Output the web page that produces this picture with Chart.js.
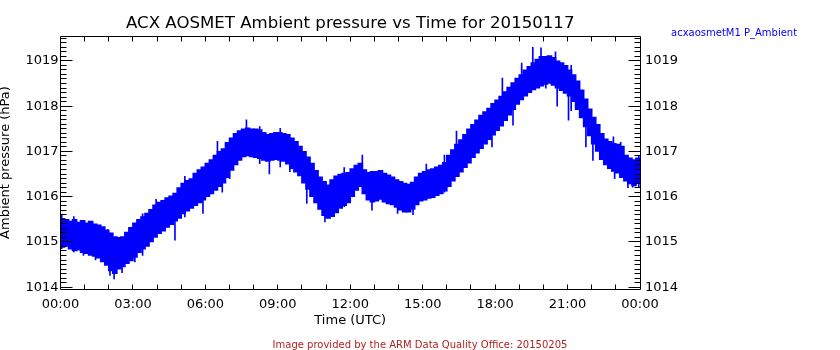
<!DOCTYPE html>
<html>
<head>
<meta charset="utf-8">
<script src="https://cdn.jsdelivr.net/npm/chart.js@4"></script>
<style>
  body { margin: 0; background: #fff; }
</style>
</head>
<body>
<canvas id="graficaPresion" width="840" height="350"></canvas>
<script>
// 10-minute bins over the day, hours since 00:00 UTC
const pressureHigh = [
    1015.52, 1015.50, 1015.46, 1015.50, 1015.44, 1015.48,
    1015.42, 1015.46, 1015.40, 1015.38, 1015.34, 1015.26,
    1015.20, 1015.12, 1015.10, 1015.12, 1015.22, 1015.32,
    1015.42, 1015.50, 1015.56, 1015.64, 1015.72, 1015.82,
    1015.88, 1015.92, 1015.98, 1016.02, 1016.08, 1016.20,
    1016.30, 1016.36, 1016.40, 1016.52, 1016.60, 1016.66,
    1016.74, 1016.82, 1016.92, 1017.00, 1017.06, 1017.20,
    1017.30, 1017.40, 1017.46, 1017.50, 1017.52, 1017.50,
    1017.50, 1017.48, 1017.42, 1017.38, 1017.40, 1017.42,
    1017.42, 1017.40, 1017.38, 1017.30, 1017.22, 1017.12,
    1017.00, 1016.88, 1016.74, 1016.58, 1016.44, 1016.34,
    1016.26, 1016.38, 1016.46, 1016.50, 1016.52, 1016.54,
    1016.62, 1016.70, 1016.74, 1016.60, 1016.54, 1016.56,
    1016.56, 1016.58, 1016.52, 1016.48, 1016.44, 1016.38,
    1016.34, 1016.30, 1016.28, 1016.32, 1016.44, 1016.52,
    1016.56, 1016.60, 1016.62, 1016.66, 1016.70, 1016.76,
    1016.92, 1017.04, 1017.16, 1017.26, 1017.38, 1017.50,
    1017.60, 1017.70, 1017.80, 1017.88, 1017.96, 1018.06,
    1018.14, 1018.22, 1018.32, 1018.42, 1018.52, 1018.62,
    1018.70, 1018.80, 1018.88, 1018.96, 1019.04, 1019.10,
    1019.10, 1019.12, 1019.08, 1019.00, 1018.96, 1018.90,
    1018.80, 1018.70, 1018.56, 1018.36, 1018.16, 1017.94,
    1017.76, 1017.60, 1017.40, 1017.28, 1017.22, 1017.18,
    1017.16, 1017.12, 1016.92, 1016.86, 1016.82, 1016.86
];
const pressureLow = [
    1014.88, 1014.90, 1014.84, 1014.80, 1014.82, 1014.76,
    1014.74, 1014.70, 1014.68, 1014.64, 1014.56, 1014.48,
    1014.36, 1014.30, 1014.40, 1014.45, 1014.52, 1014.58,
    1014.66, 1014.76, 1014.84, 1014.90, 1015.00, 1015.10,
    1015.18, 1015.24, 1015.32, 1015.38, 1015.46, 1015.52,
    1015.62, 1015.68, 1015.74, 1015.80, 1015.86, 1015.92,
    1016.00, 1016.06, 1016.14, 1016.22, 1016.30, 1016.42,
    1016.58, 1016.70, 1016.80, 1016.88, 1016.90, 1016.88,
    1016.86, 1016.84, 1016.80, 1016.78, 1016.80, 1016.82,
    1016.80, 1016.78, 1016.72, 1016.62, 1016.54, 1016.46,
    1016.30, 1016.16, 1016.00, 1015.86, 1015.72, 1015.58,
    1015.52, 1015.56, 1015.64, 1015.74, 1015.80, 1015.86,
    1016.00, 1016.14, 1016.22, 1016.06, 1015.92, 1015.88,
    1015.90, 1015.94, 1015.88, 1015.84, 1015.82, 1015.76,
    1015.70, 1015.66, 1015.66, 1015.72, 1015.82, 1015.90,
    1015.92, 1015.96, 1015.98, 1016.02, 1016.06, 1016.12,
    1016.22, 1016.34, 1016.44, 1016.54, 1016.64, 1016.74,
    1016.86, 1016.96, 1017.06, 1017.16, 1017.26, 1017.36,
    1017.46, 1017.56, 1017.68, 1017.80, 1017.92, 1018.04,
    1018.14, 1018.22, 1018.30, 1018.36, 1018.40, 1018.44,
    1018.48, 1018.50, 1018.46, 1018.40, 1018.34, 1018.28,
    1018.22, 1018.10, 1017.92, 1017.74, 1017.54, 1017.34,
    1017.16, 1017.00, 1016.82, 1016.70, 1016.62, 1016.56,
    1016.52, 1016.42, 1016.34, 1016.28, 1016.24, 1016.30
];

// single samples that stick out of the band
const spikeHours = [0.05, 0.55, 0.95, 1.45, 1.95, 2.05, 2.22, 2.55, 3.08, 3.40, 3.96, 4.74,
    5.15, 5.90, 6.50, 6.70, 7.00, 7.70, 8.25, 8.65, 9.10, 9.50, 10.20, 10.95, 11.70, 11.75,
    12.50, 12.90, 13.96, 14.60, 15.15, 15.90, 16.40, 17.40, 17.87, 18.30, 18.74, 19.10,
    19.56, 19.90, 20.10, 20.50, 20.57, 21.04, 21.15, 21.76, 22.05, 22.90, 22.95, 23.20,
    23.50, 23.70, 23.95];
const spikeLow = [1014.85, 1014.78, 1014.70, 1014.60, 1014.50, 1014.26, 1014.18, 1014.32, 1014.56, 1014.70, 1015.30, 1015.04,
    1015.55, 1015.63, 1016.30, 1016.10, 1016.40, 1017.00, 1016.73, 1016.50, 1016.66, 1016.55, 1015.85, 1015.44, 1015.81, 1015.78,
    1016.20, 1015.70, 1015.63, 1015.60, 1016.20, 1016.10, 1016.90, 1017.10, 1017.10, 1018.00, 1017.58, 1018.20,
    1018.50, 1018.50, 1018.40, 1018.70, 1018.00, 1017.69, 1017.90, 1017.10, 1016.80, 1016.70, 1016.40, 1016.60,
    1016.20, 1016.21, 1016.20];
const spikeHigh = [1015.60, 1015.56, 1015.40, 1015.20, 1015.28, 1014.80, 1014.80, 1014.80, 1015.20, 1015.62, 1015.94, 1015.60,
    1016.45, 1016.20, 1017.22, 1016.60, 1016.90, 1017.70, 1017.55, 1017.00, 1017.51, 1017.00, 1016.75, 1015.80, 1016.30, 1016.64,
    1016.92, 1016.20, 1016.10, 1016.00, 1016.72, 1016.92, 1017.45, 1017.60, 1017.60, 1018.62, 1018.10, 1018.95,
    1019.30, 1019.29, 1018.90, 1019.20, 1018.50, 1018.30, 1018.90, 1017.70, 1017.30, 1017.32, 1016.80, 1017.20,
    1016.90, 1016.60, 1016.90];

const timeLabels = ["00:00", "03:00", "06:00", "09:00", "12:00", "15:00", "18:00", "21:00", "00:00"];

const binHours = pressureHigh.map((_, i) => (i + 0.5) / 6);

const fuente = "'DejaVu Sans', sans-serif";
const azul = "#0000ff";

// box, hourly ticks and 0.1 hPa ticks like the IDL plot frame
const marco = {
    id: "marco",
    afterDatasetsDraw(chart) {
        const { ctx, chartArea: a, scales: { x, y } } = chart;
        const l = Math.floor(a.left) + 0.5, r = Math.floor(a.right) + 0.5;
        const t = Math.floor(a.top) + 0.5, b = Math.floor(a.bottom) + 0.5;
        ctx.save();
        ctx.strokeStyle = "#000";
        ctx.lineWidth = 1;
        ctx.beginPath();
        ctx.rect(l, t, r - l, b - t);
        for (let h = 1; h < 24; h++) {
            const px = Math.floor(x.getPixelForValue(h)) + 0.5;
            ctx.moveTo(px, b); ctx.lineTo(px, b - 5);
            ctx.moveTo(px, t); ctx.lineTo(px, t + 5);
        }
        for (let k = Math.ceil(y.min * 10); k <= Math.floor(y.max * 10); k++) {
            const py = Math.floor(y.getPixelForValue(k / 10)) + 0.5;
            const len = k % 10 === 0 ? 12 : 6;
            ctx.moveTo(l, py); ctx.lineTo(l + len, py);
            ctx.moveTo(r, py); ctx.lineTo(r - len, py);
        }
        ctx.stroke();
        ctx.restore();
    },
    afterDraw(chart) {
        const { ctx, chartArea: a } = chart;
        ctx.save();
        ctx.textBaseline = "alphabetic";
        ctx.fillStyle = "#000";
        ctx.font = "16.6px " + fuente;
        ctx.textAlign = "center";
        ctx.fillText("ACX AOSMET Ambient pressure vs Time for 20150117", (a.left + a.right) / 2, 28);
        ctx.fillStyle = azul;
        ctx.font = "10px " + fuente;
        ctx.textAlign = "left";
        ctx.fillText("acxaosmetM1 P_Ambient", 671, 36);
        ctx.fillStyle = "#b22222";
        ctx.textAlign = "center";
        ctx.fillText("Image provided by the ARM Data Quality Office: 20150205", 420, 348);
        ctx.restore();
    }
};

const ticksComunes = { color: "#000", font: { family: fuente, size: 13 } };

new Chart(document.getElementById("graficaPresion").getContext("2d"), {
    type: "bar",
    data: {
        datasets: [{
            label: "P_Ambient",
            data: binHours.map((h, i) => ({ x: h, y: [pressureLow[i], pressureHigh[i]] })),
            backgroundColor: azul,
            borderWidth: 0,
            barThickness: 5,
            grouped: false
        }, {
            label: "picos",
            data: spikeHours.map((h, i) => ({ x: h, y: [spikeLow[i], spikeHigh[i]] })),
            backgroundColor: azul,
            borderWidth: 0,
            barThickness: 1,
            grouped: false
        }]
    },
    options: {
        responsive: false,
        animation: false,
        devicePixelRatio: 1,
        layout: { padding: { top: 36, left: 0, right: 0, bottom: 0 } },
        plugins: { legend: { display: false }, tooltip: { enabled: false } },
        scales: {
            x: {
                type: "linear",
                min: 0,
                max: 24,
                offset: false,
                afterFit: s => { s.height = 61; },
                grid: { display: false, drawTicks: false },
                border: { display: false },
                ticks: Object.assign({}, ticksComunes, {
                    stepSize: 3,
                    padding: 8,
                    maxRotation: 0,
                    autoSkip: false,
                    callback: v => timeLabels[v / 3]
                }),
                title: {
                    display: true,
                    text: "Time (UTC)",
                    color: "#000",
                    font: { family: fuente, size: 13 },
                    padding: { top: 0, bottom: 22 }
                }
            },
            y: {
                position: "left",
                min: 1013.96,
                max: 1019.55,
                afterFit: s => { s.width = 60.5; },
                grid: { display: false, drawTicks: false },
                border: { display: false },
                ticks: Object.assign({}, ticksComunes, {
                    stepSize: 1,
                    includeBounds: false,
                    padding: 2,
                    callback: v => String(v)
                }),
                title: {
                    display: true,
                    text: "Ambient pressure (hPa)",
                    color: "#000",
                    font: { family: fuente, size: 13 },
                    padding: { top: -2, bottom: 0 }
                }
            },
            y2: {
                position: "right",
                min: 1013.96,
                max: 1019.55,
                afterFit: s => { s.width = 200; },
                grid: { display: false, drawTicks: false },
                border: { display: false },
                ticks: Object.assign({}, ticksComunes, {
                    stepSize: 1,
                    includeBounds: false,
                    padding: 5,
                    callback: v => String(v)
                })
            }
        }
    },
    plugins: [marco]
});
</script>
</body>
</html>
